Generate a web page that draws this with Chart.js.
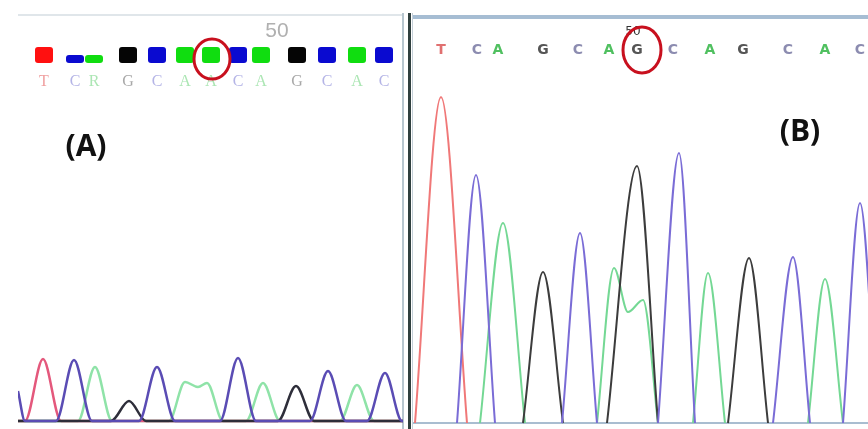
<!DOCTYPE html>
<html>
<head>
<meta charset="utf-8">
<script src="https://cdn.jsdelivr.net/npm/chart.js@4.4.1/dist/chart.umd.min.js"></script>
<style>
body { margin: 0; width: 868px; height: 429px; background: #fff; position: relative; overflow: hidden; font-family: 'Open Sans', sans-serif; }
canvas, .abs { position: absolute; }
#cA { left: 18px; top: 15px; }
#cB { left: 413px; top: 18px; }
.frameA { left: 18px; top: 14px; width: 384px; height: 2px; background: #e0e6ea; }
.div1 { left: 402px; top: 13px; width: 2px; height: 416px; background: #b7c6cf; }
.div2 { left: 408px; top: 13px; width: 3px; height: 416px; background: #30403f; }
.div3 { left: 412px; top: 13px; width: 1px; height: 416px; background: #c5d0d8; }
.frameB { left: 413px; top: 15px; width: 455px; height: 4px; background: #a6bdd3; }
.lab { font-weight: 700; font-size: 30px; line-height: 1; color: #111; transform: translate(-50%, -50%); white-space: nowrap; }
</style>
</head>
<body>
<div class="abs frameA"></div>
<div class="abs div1"></div>
<div class="abs div2"></div>
<div class="abs div3"></div>
<div class="abs frameB"></div>
<canvas id="cA" width="385" height="410"></canvas>
<canvas id="cB" width="455" height="407"></canvas>
<div class="abs lab" style="left:86px;top:145px">(A)</div>
<div class="abs lab" style="left:800px;top:130px">(B)</div>
<script>
// panel A - trace key points [scan, signal]
const traceA_C = [[0,30],[7,0],[38,0],[56,61],[74,0],[121,0],[139,54],[157,0],[202,0],[220,63],[238,0],[292,0],[310,50],[328,0],[349,0],[367,48],[384,0],[385,0]];
const traceA_T = [[0,0],[7,0],[25,62],[43,0],[385,0]];
const traceA_A = [[0,0],[60,0],[77,54],[94,0],[151,0],[167,39],[180,34],[189,38],[205,0],[228,0],[245,38],[262,0],[322,0],[339,36],[356,0],[385,0]];
const traceA_G = [[0,0],[93,0],[111,20],[128,0],[260,0],[278,35],[296,0],[385,0]];
const callsA = ['T','C','R','G','C','A','A','C','A','G','C','A','C'];
const callPosA = [26,57,76,110,139,167,193,220,243,279,309,339,366];
const callQualA = [1,0.5,0.5,1,1,1,1,1,1,1,1,1,1];
const tickPosA = [259];
const tickLabelA = ['50'];

// panel B
const traceB_T = [[2,0],[28,326],[54,0]];
const traceB_C = [[44,0],[63,248],[82,0],[115,null],[149,0],[167,190],[184,0],[215,null],[245,0],[266,270],[282,0],[320,null],[360,0],[380,166],[397,0],[413,null],[430,0],[447,220],[464,0]];
const traceB_A = [[67,0],[90,200],[112,0],[150,null],[184,0],[201,155],[215,111],[230,123],[245,0],[262,null],[280,0],[295,150],[312,0],[350,null],[395,0],[412,144],[430,0]];
const traceB_G = [[110,0],[130,151],[150,0],[170,null],[194,0],[224,257],[245,0],[280,null],[315,0],[336,165],[355,0]];
const callsB = ['T','C','A','G','C','A','G','C','A','G','C','A','C'];
const callPosB = [28,64,85,130,165,196,224,260,297,330,375,412,447];
const tickPosB = [220];
const tickLabelB = ['50'];

function pts(arr) {
    return arr.map(p => ({ x: p[0], y: p[1] }));
}

const callPlugin = {
    id: 'calls',
    beforeDatasetsDraw(chart, args, o) {
        if (!o.baseline) return;
        const ctx = chart.ctx;
        const y0 = chart.scales.y.getPixelForValue(0);
        ctx.save();
        ctx.strokeStyle = o.baseline;
        ctx.lineWidth = 2;
        ctx.beginPath();
        ctx.moveTo(chart.chartArea.left, y0);
        ctx.lineTo(chart.chartArea.right, y0);
        ctx.stroke();
        ctx.restore();
    },
    afterDatasetsDraw(chart, args, o) {
        const ctx = chart.ctx;
        const xs = chart.scales.x;
        ctx.save();
        // quality squares
        if (o.qual) {
            o.pos.forEach((p, i) => {
                const x = xs.getPixelForValue(p);
                const h = 16 * o.qual[i];
                ctx.fillStyle = o.squareColors[o.bases[i]];
                ctx.beginPath();
                ctx.roundRect(x - 9, o.squareBottom - h, 18, h, 3);
                ctx.fill();
            });
        }
        // base letters
        ctx.font = o.letterFont;
        ctx.textAlign = 'center';
        ctx.textBaseline = 'middle';
        o.pos.forEach((p, i) => {
            ctx.fillStyle = o.letterColors[o.bases[i]];
            ctx.fillText(o.bases[i], xs.getPixelForValue(p), o.letterY);
        });
        // position number
        ctx.font = o.numFont;
        ctx.fillStyle = o.numColor;
        o.tickPos.forEach((p, i) => {
            ctx.fillText(o.tickLabels[i], xs.getPixelForValue(p), o.numY);
        });
        // red circle
        ctx.strokeStyle = '#c8101e';
        ctx.lineWidth = 3;
        ctx.beginPath();
        ctx.ellipse(xs.getPixelForValue(o.mark), o.markY, o.markRx, o.markRy, 0, 0, Math.PI * 2);
        ctx.stroke();
        ctx.restore();
    }
};

// chart.js paints dataset 0 on top, so the list goes top -> bottom
function makeChart(id, traces, lineW, xMax, yMin, yMax, callOpts) {
    new Chart(document.getElementById(id), {
        type: 'line',
        data: {
            datasets: traces.map(t => ({
                data: pts(t.data),
                borderColor: t.color,
                borderWidth: lineW,
                fill: false,
                pointRadius: 0,
                cubicInterpolationMode: 'monotone',
                clip: 4
            }))
        },
        options: {
            responsive: false,
            animation: false,
            devicePixelRatio: 1,
            layout: { padding: 0 },
            scales: {
                x: { type: 'linear', display: false, min: 0, max: xMax },
                y: { display: false, min: yMin, max: yMax }
            },
            plugins: {
                legend: { display: false },
                tooltip: { enabled: false },
                calls: callOpts
            }
        },
        plugins: [callPlugin]
    });
}

makeChart('cA', [
    { data: traceA_C, color: '#5a4cb4' },
    { data: traceA_G, color: '#2e2e3a' },
    { data: traceA_T, color: '#e4587c' },
    { data: traceA_A, color: '#8fe3a8' }
], 2.5, 385, -4, 406, {
    pos: callPosA,
    bases: callsA,
    qual: callQualA,
    squareBottom: 48,
    squareColors: { T: '#ff1010', C: '#0a0ad0', A: '#10dd10', R: '#10dd10', G: '#050505' },
    letterY: 67,
    letterFont: '16px "Liberation Serif"',
    letterColors: { T: '#f0a0a0', C: '#b4b4e6', A: '#ace6b4', R: '#ace6b4', G: '#a8a8a8' },
    tickPos: tickPosA,
    tickLabels: tickLabelA,
    numY: 16,
    numFont: '21px "Liberation Sans"',
    numColor: '#b0b0b0',
    mark: 194,
    markY: 44,
    markRx: 18,
    markRy: 20
});

makeChart('cB', [
    { data: traceB_C, color: '#7a6cd6' },
    { data: traceB_G, color: '#3c3c3c' },
    { data: traceB_T, color: '#f07878' },
    { data: traceB_A, color: '#74d894' }
], 2, 455, -2, 405, {
    baseline: '#a9bdd0',
    pos: callPosB,
    bases: callsB,
    letterY: 32,
    letterFont: 'bold 14px "DejaVu Sans"',
    letterColors: { T: '#e07070', C: '#8c8cb0', A: '#50c060', G: '#555555' },
    tickPos: tickPosB,
    tickLabels: tickLabelB,
    numY: 14,
    numFont: '12px "DejaVu Sans"',
    numColor: '#333333',
    mark: 229,
    markY: 32,
    markRx: 19,
    markRy: 23
});
</script>
</body>
</html>
